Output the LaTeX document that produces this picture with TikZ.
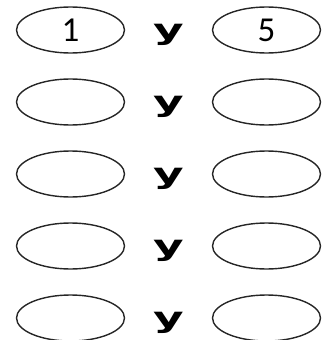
\documentclass[tikz,border=0pt]{standalone}
\usepackage{fontspec}
\usepackage{graphicx}
\newfontfamily\numfont{Carlito}
\newfontfamily\conjfont{DejaVu Sans}
\usetikzlibrary{shapes.geometric, calc}

\begin{document}
\begin{tikzpicture}[x=1pt, y=-1pt,
    slot/.style={ellipse, draw=black!85, line width=1.4pt, minimum width=108pt,
                 minimum height=46pt, inner sep=0pt, font=\numfont\fontsize{35}{35}\selectfont},
    conj/.style={inner sep=0pt, font=\conjfont\bfseries\fontsize{28}{28}\selectfont},
]
    \useasboundingbox (0, 0) rectangle (327, 340);

    % Rows of pairs
    \foreach \i/\a/\b in {1/1/5, 2/{}/{}, 3/{}/{}, 4/{}/{}, 5/{}/{}} {
        \node[slot] (l\i) at (70.5, {30+72*(\i-1)}) {\a};
        \node[slot] (r\i) at (266.5, {30+72*(\i-1)}) {\b};
        \node[conj, yshift=-4.5pt] (y\i) at ($(l\i)!0.5!(r\i)$) {\scalebox{1.68}[1]{y}};
    }
\end{tikzpicture}
\end{document}
